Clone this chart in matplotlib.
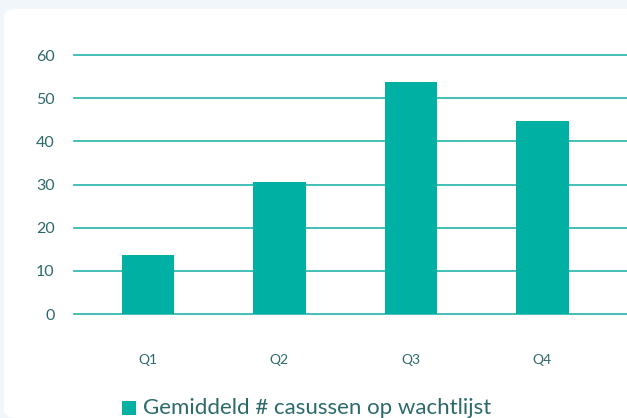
import matplotlib.pyplot as plt
from matplotlib.patches import FancyBboxPatch, Rectangle

categories = ["Q1", "Q2", "Q3", "Q4"]
values = [13.7, 30.6, 53.7, 44.7]
yticks = [0, 10, 20, 30, 40, 50, 60]
label = "Gemiddeld # casussen op wachtlijst"

bar_color = "#00B0A2"
grid_color = "#22B5AA"
text_color = "#2C6A6A"

plt.rcParams["font.family"] = ["Lato", "DejaVu Sans"]

fig = plt.figure(figsize=(6.27, 4.18), dpi=100)
fig.patch.set_facecolor("#F1F6FB")

# white card behind the chart
card = FancyBboxPatch((4 / 627, 0), 1.2, 1 - 9 / 418,
                      boxstyle="round,pad=0,rounding_size=0.02",
                      transform=fig.transFigure, facecolor="white",
                      edgecolor="none", zorder=-10)
fig.patches.append(card)

ax = fig.add_axes([74 / 627, 1 - 314 / 418, 1 - 74 / 627, (314 - 55) / 418])
ax.set_facecolor("none")
x = range(len(categories))
ax.bar(x, values, width=0.4, color=bar_color, zorder=3)

ax.set_ylim(0, 60)
ax.set_xlim(-0.563, 3.645)
ax.set_yticks(yticks)
for t in yticks:
    ax.axhline(t, color=grid_color, lw=1.2, zorder=1, clip_on=False)
ax.set_xticks(list(x))
ax.set_xticklabels(categories)
for s in ax.spines.values():
    s.set_visible(False)
ax.tick_params(axis="both", length=0, colors=text_color, labelsize=10)
ax.tick_params(axis="y", pad=14, labelsize=11.5)
ax.tick_params(axis="x", pad=29)

# legend
fig.patches.append(Rectangle((122 / 627, 1 - 415 / 418), 14 / 627, 14 / 418,
                             transform=fig.transFigure, facecolor=bar_color,
                             edgecolor="none"))
fig.text(143 / 627, 1 - 408 / 418, label, color=text_color, fontsize=16,
         va="center", ha="left")

fig.savefig("out.png", dpi=100, facecolor=fig.get_facecolor())
